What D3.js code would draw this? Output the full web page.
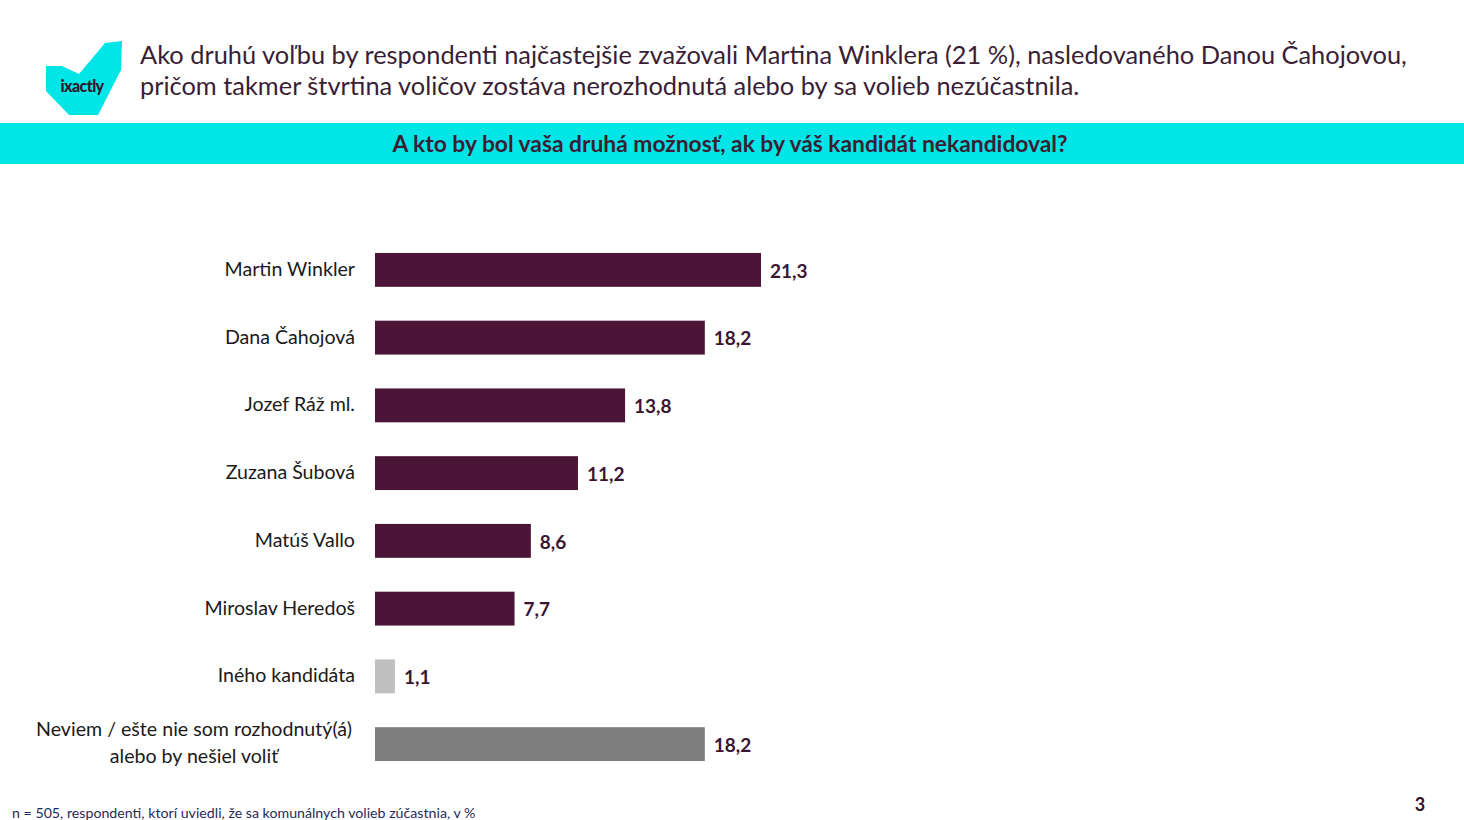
<!DOCTYPE html>
<html>
<head>
<meta charset="utf-8">
<script src="https://cdn.jsdelivr.net/npm/d3@7"></script>
<style>
  body { margin: 0; background: #fff; }
  svg { display: block; font-family: Lato, "Open Sans", sans-serif; }
</style>
</head>
<body>
<script>
const categories = [
  "Martin Winkler",
  "Dana Čahojová",
  "Jozef Ráž ml.",
  "Zuzana Šubová",
  "Matúš Vallo",
  "Miroslav Heredoš",
  "Iného kandidáta",
  "Neviem / ešte nie som rozhodnutý(á)\nalebo by nešiel voliť"
];
const values = [21.3, 18.2, 13.8, 11.2, 8.6, 7.7, 1.1, 18.2];
const barColors = ["#4a1536", "#4a1536", "#4a1536", "#4a1536", "#4a1536", "#4a1536", "#bfbfbf", "#7f7f7f"];

const titleLines = [
  "Ako druhú voľbu by respondenti najčastejšie zvažovali Martina Winklera (21 %), nasledovaného Danou Čahojovou,",
  "pričom takmer štvrtina voličov zostáva nerozhodnutá alebo by sa volieb nezúčastnila."
];
const question = "A kto by bol vaša druhá možnosť, ak by váš kandidát nekandidoval?";
const footnote = "n = 505, respondenti, ktorí uviedli, že sa komunálnych volieb zúčastnia, v %";
const pageNumber = "3";

const width = 1464, height = 820;
const fmt = v => String(v.toFixed(1)).replace(".", ",");

const svg = d3.select("body").append("svg")
    .attr("width", width)
    .attr("height", height);

// logo
svg.append("path")
    .attr("d", "M46,66 L62,66 L79,74 L105,43 L122,41 L121,70 L98,115 L69,115 L46,91 Z")
    .attr("fill", "#00e6e6");
svg.append("text")
    .attr("x", 82).attr("y", 92)
    .attr("text-anchor", "middle")
    .attr("font-size", 16).attr("font-weight", 900)
    .attr("fill", "#2d1630")
    .attr("letter-spacing", -0.6)
    .text("ixactly");

// title
svg.append("g")
  .selectAll("text")
  .data(titleLines)
  .join("text")
    .attr("x", 140)
    .attr("y", (d, i) => 64 + i * 31)
    .attr("font-size", 25.4)
    .attr("fill", "#3a1e35")
    .text(d => d);

// question banner
svg.append("rect")
    .attr("x", 0).attr("y", 123)
    .attr("width", width).attr("height", 41)
    .attr("fill", "#00e6e6");
svg.append("text")
    .attr("x", 730).attr("y", 152)
    .attr("text-anchor", "middle")
    .attr("font-size", 22.8).attr("font-weight", 700)
    .attr("fill", "#3a1e35")
    .text(question);

// scales
const x = d3.scaleLinear()
    .domain([0, 21.3])
    .range([375, 761]);

const y = d3.scaleBand()
    .domain(categories)
    .range([236, 778])
    .paddingInner(0.5)
    .paddingOuter(0.25);

const rows = categories.map((c, i) => ({cat: c, value: values[i], color: barColors[i]}));

// bars
svg.append("g")
  .selectAll("rect")
  .data(rows)
  .join("rect")
    .attr("x", x(0))
    .attr("y", d => y(d.cat))
    .attr("width", d => x(d.value) - x(0))
    .attr("height", y.bandwidth())
    .attr("fill", d => d.color);

// value labels
svg.append("g")
  .selectAll("text")
  .data(rows)
  .join("text")
    .attr("x", d => x(d.value) + 9)
    .attr("y", d => y(d.cat) + y.bandwidth() / 2 + 1)
    .attr("dy", "0.35em")
    .attr("font-size", 19).attr("font-weight", 700)
    .attr("fill", "#3a1632")
    .text(d => fmt(d.value));

// category labels
svg.append("g")
  .selectAll("text")
  .data(rows)
  .join("text")
    .attr("x", 355)
    .attr("y", d => y(d.cat) + y.bandwidth() / 2)
    .attr("text-anchor", d => d.cat.includes("\n") ? "middle" : "end")
    .attr("font-size", 19.6)
    .attr("fill", "#1a1a1a")
    .each(function(d) {
      const lines = d.cat.split("\n");
      const t = d3.select(this);
      if (lines.length === 1) {
        t.attr("dy", "0.3em").text(lines[0]);
      } else {
        t.attr("x", 194);
        lines.forEach((l, i) => {
          t.append("tspan")
              .attr("x", 194)
              .attr("dy", i === 0 ? "-0.4em" : "1.35em")
              .text(l);
        });
      }
    });

// footnote
svg.append("text")
    .attr("x", 12).attr("y", 818)
    .attr("font-size", 14.2)
    .attr("fill", "#1f2b5c")
    .text(footnote);

svg.append("text")
    .attr("x", 1420).attr("y", 811)
    .attr("text-anchor", "middle")
    .attr("font-size", 18).attr("font-weight", 700)
    .attr("fill", "#2d1630")
    .text(pageNumber);
</script>
</body>
</html>
